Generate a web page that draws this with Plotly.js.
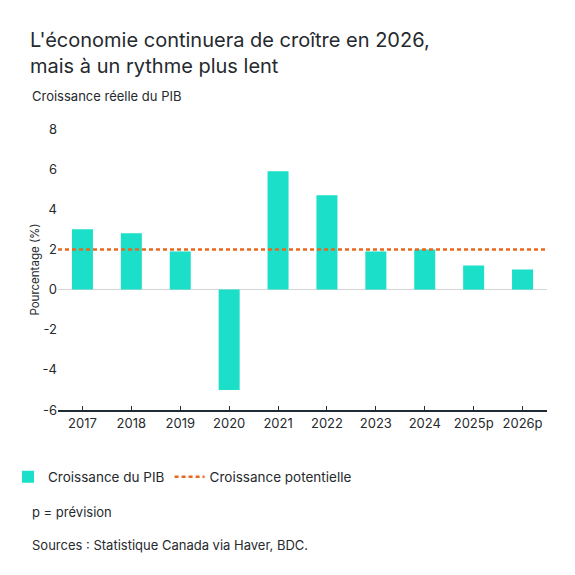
<!DOCTYPE html>
<html>
<head>
<meta charset="utf-8">
<script src="https://cdn.plot.ly/plotly-3.0.1.min.js"></script>
<style>
  html, body { margin: 0; padding: 0; background: #fff; }
  #chart { width: 575px; height: 575px; }
</style>
</head>
<body>
<div id="chart"></div>
<script>
'use strict';

// Chart data
let years = ['2017', '2018', '2019', '2020', '2021', '2022', '2023', '2024', '2025p', '2026p'];
let gdpGrowth = [3.0, 2.8, 1.9, -5.0, 5.9, 4.7, 1.9, 2.0, 1.2, 1.0];
let potentialGrowth = [2.0, 2.0];
let potentialSpan = [0, 1];
let yTicks = [-6, -4, -2, 0, 2, 4, 6, 8];
// plain hyphen for negatives, as in the original
let yTickText = yTicks.map(function (v) { return String(v); });

let fontFamily = 'Inter, "Open Sans", sans-serif';
let textColor = '#262a2e';

let traceGDP = {
    x: years,
    y: gdpGrowth,
    name: 'Croissance du PIB',
    type: 'bar',
    marker: { color: '#1cdfc9' },
    hoverinfo: 'x+y'
};

// reference line drawn on an overlay axis so it spans the full plot width
let tracePotential = {
    x: potentialSpan,
    y: potentialGrowth,
    xaxis: 'x2',
    name: 'Croissance potentielle',
    type: 'scatter',
    mode: 'lines',
    line: { color: '#e8681e', width: 2.5, dash: '4px,3px' }
};

let layout = {
    width: 575,
    height: 575,
    paper_bgcolor: '#ffffff',
    plot_bgcolor: '#ffffff',
    font: { family: fontFamily, color: textColor },
    margin: { l: 58, r: 28, t: 129, b: 165, autoexpand: false },
    title: {
        text: "L'économie continuera de croître en 2026,<br>mais à un rythme plus lent",
        font: { family: fontFamily, size: 20, color: textColor },
        x: 30 / 575,
        xanchor: 'left',
        xref: 'container',
        y: 1 - 47 / 575,
        yanchor: 'top',
        yref: 'container'
    },
    bargap: 0.57,
    xaxis: {
        type: 'category',
        range: [-0.5, 9.5],
        showgrid: false,
        zeroline: false,
        showline: true,
        linecolor: '#1f2b36',
        linewidth: 2,
        ticks: 'inside',
        ticklen: 4,
        tickcolor: '#1f2b36',
        tickfont: { size: 13, color: textColor },
        fixedrange: true
    },
    xaxis2: {
        overlaying: 'x',
        range: [0, 1],
        visible: false,
        fixedrange: true
    },
    yaxis: {
        range: [-6, 8],
        tickvals: yTicks,
        ticktext: yTickText,
        showgrid: false,
        zeroline: true,
        zerolinecolor: '#d6d6d6',
        zerolinewidth: 1,
        showline: false,
        ticks: '',
        tickfont: { size: 13, color: textColor },
        title: {
            text: 'Pourcentage (%)',
            font: { size: 11.5, color: textColor },
            standoff: 0
        },
        fixedrange: true
    },
    showlegend: true,
    legend: {
        orientation: 'h',
        x: -50 / 489,
        xanchor: 'left',
        y: -0.238,
        yanchor: 'middle',
        font: { size: 13.5, color: textColor },
        itemwidth: 30,
        tracegroupgap: 0
    },
    annotations: [
        {
            text: 'Croissance réelle du PIB',
            xref: 'paper', yref: 'paper',
            x: -28 / 489, y: (410 - 96) / 281,
            xanchor: 'left', yanchor: 'middle',
            showarrow: false,
            font: { size: 13, color: textColor }
        },
        {
            text: 'p = prévision',
            xref: 'paper', yref: 'paper',
            x: -28 / 489, y: (410 - 512) / 281,
            xanchor: 'left', yanchor: 'middle',
            showarrow: false,
            font: { size: 13, color: textColor }
        },
        {
            text: 'Sources : Statistique Canada via Haver, BDC.',
            xref: 'paper', yref: 'paper',
            x: -28 / 489, y: (410 - 545) / 281,
            xanchor: 'left', yanchor: 'middle',
            showarrow: false,
            font: { size: 13, color: textColor }
        }
    ]
};

let config = { displayModeBar: false, responsive: false };

Plotly.newPlot('chart', [traceGDP, tracePotential], layout, config);
</script>
</body>
</html>
